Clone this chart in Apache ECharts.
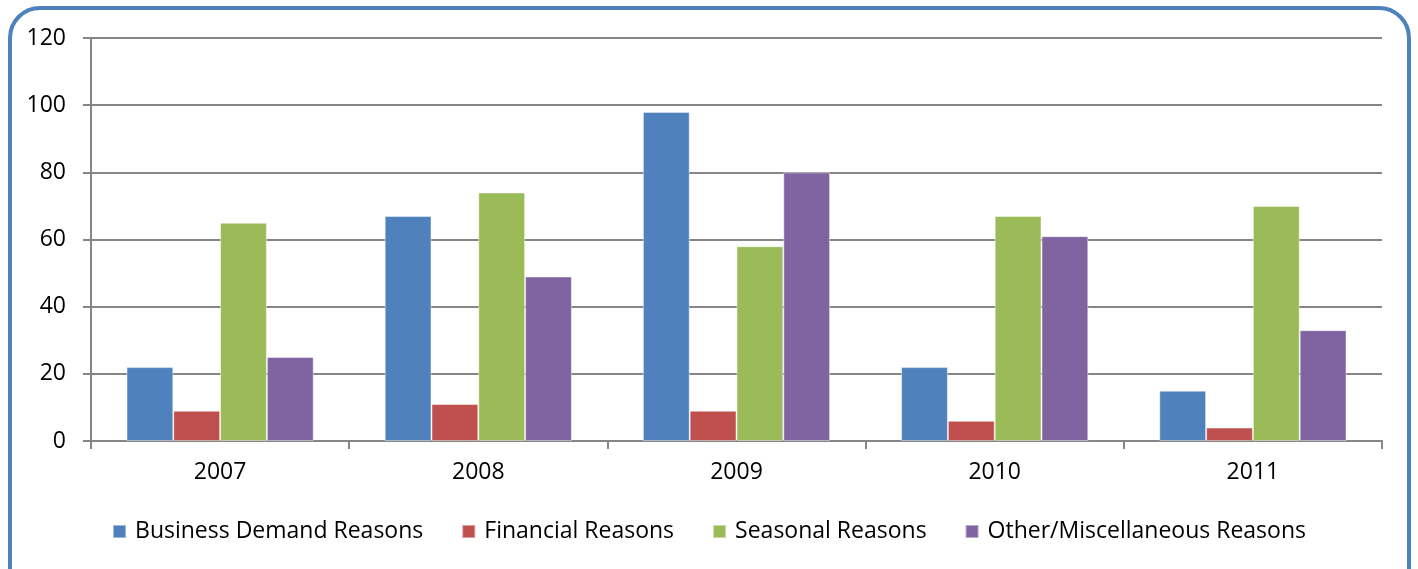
<!DOCTYPE html>
<html><head><meta charset="utf-8">
<script src="https://cdn.jsdelivr.net/npm/echarts@6/dist/echarts.min.js"></script>
<style>html,body{margin:0;padding:0;background:#fff;}#c{width:1418px;height:569px;}</style>
</head><body><div id="c"></div>
<script>
const categories = ['2007','2008','2009','2010','2011'];
const seriesNames = ['Business Demand Reasons','Financial Reasons','Seasonal Reasons','Other/Miscellaneous Reasons'];
const businessDemand = [22, 67, 98, 22, 15];
const financial = [9, 11, 9, 6, 4];
const seasonal = [65, 74, 58, 67, 70];
const otherMisc = [25, 49, 80, 61, 33];
const colors = ['#4F81BD','#C0504D','#9BBB59','#8064A2'];
const allData = [businessDemand, financial, seasonal, otherMisc];

const chart = echarts.init(document.getElementById('c'));
const font = '"Open Sans", sans-serif';
chart.setOption({
  animation: false,
  color: colors,
  grid: {left: 91, right: 36, top: 38, bottom: 128},
  graphic: [{
    type: 'rect', z: 100, silent: true,
    shape: {x: 10, y: 8, width: 1399, height: 600, r: 30},
    style: {fill: 'none', stroke: '#4F81BD', lineWidth: 4}
  }],
  legend: {
    bottom: 21, left: 'center',
    itemWidth: 13, itemHeight: 13, itemGap: 38,
    icon: 'rect',
    textStyle: {fontFamily: font, fontSize: 23, color: '#000', padding: [0, 0, 0, 4]},
    data: seriesNames
  },
  xAxis: {
    type: 'category', data: categories,
    axisLine: {lineStyle: {color: '#868686', width: 2}},
    axisTick: {show: true, length: 8, lineStyle: {color: '#868686', width: 2}},
    axisLabel: {fontFamily: font, fontSize: 23, color: '#000', margin: 20}
  },
  yAxis: {
    type: 'value', min: 0, max: 120, interval: 20,
    axisLine: {show: true, lineStyle: {color: '#868686', width: 2}},
    axisTick: {show: true, length: 8, lineStyle: {color: '#868686', width: 2}},
    splitLine: {lineStyle: {color: '#868686', width: 2}},
    axisLabel: {fontFamily: font, fontSize: 23, color: '#000', margin: 25}
  },
  series: seriesNames.map((n, i) => ({
    name: n, type: 'bar', data: allData[i],
    barGap: '0%', barCategoryGap: '27.5%',
    itemStyle: {borderColor: 'rgba(255,255,255,0.45)', borderWidth: 1}
  }))
});
</script></body></html>
